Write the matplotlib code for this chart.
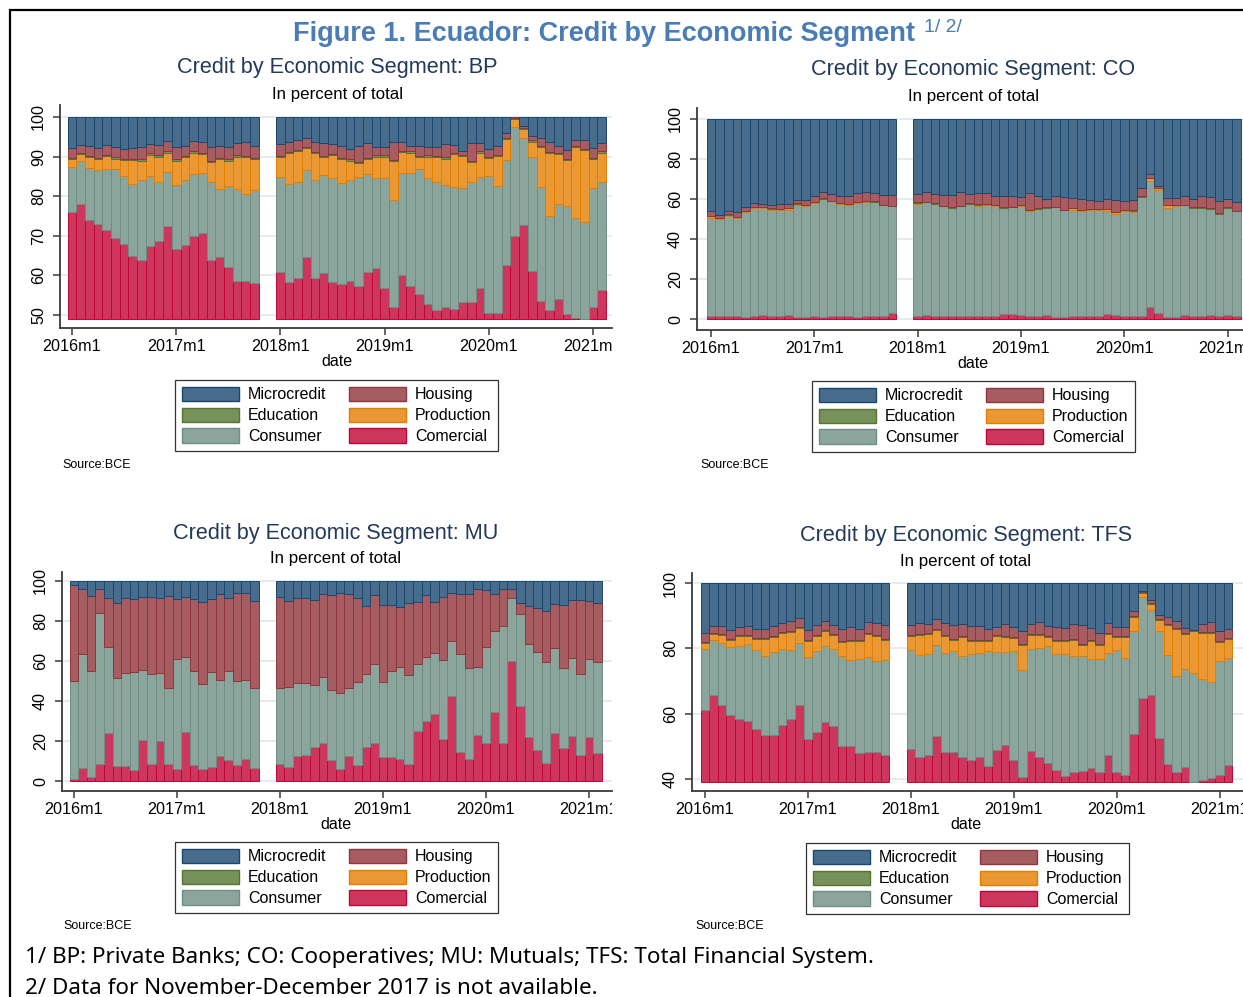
import numpy as np
import pandas as pd
import matplotlib
matplotlib.use("Agg")
import matplotlib.pyplot as plt
from matplotlib.patches import Patch, Rectangle
from matplotlib.transforms import Bbox, TransformedBbox

# months shown (Nov-Dec 2017 missing)
dates = list(pd.period_range("2016-01", "2017-10", freq="M")) + \
    list(pd.period_range("2018-01", "2021-02", freq="M"))
tick_pos = [0, 12, 24, 36, 48, 60]
tick_labels = ["2016m1", "2017m1", "2018m1", "2019m1", "2020m1", "2021m1"]

fills = {"Microcredit": "#486c8c", "Housing": "#a65d62", "Education": "#77915a",
         "Production": "#e99833", "Consumer": "#8ba59d", "Comercial": "#cd375d"}
edges = {"Microcredit": "#1a476f", "Housing": "#90353b", "Education": "#55752f",
         "Production": "#e37e00", "Consumer": "#6e8e84", "Comercial": "#c10534"}

# ---- BP: upper edge of each layer (percent, cumulative), edu = share
bp_com = [76, 78, 74, 73, 71.5, 69.5, 68, 65, 64, 67.5, 68.7, 72.5, 66.7, 67.8, 70, 70.7, 64, 64.7, 62, 58.6, 58.7, 58,
          60.8, 58.4, 59.3, 64.7, 59.3, 60.5, 58.4, 57.8, 58.6, 57.2, 60.8, 61.8, 56.7, 51.9, 60, 57.4, 55.3, 52.8, 51.3,
          51.9, 51.5, 53.2, 53.4, 56.7, 50.6, 50.4, 62.5, 70, 72.7, 61, 53.5, 51.3, 54, 50.3, 49.2, 47, 51.9, 56.3]
bp_con = [87.3, 89, 87.2, 86.7, 86.8, 86.8, 85, 83, 84, 85, 83.6, 86, 82.8, 84.2, 85.6, 85.8, 83.5, 81.8, 82.5, 81.8, 80.6, 81.5,
          84.8, 83, 83.6, 86.6, 84, 85.3, 84.7, 83.3, 84.1, 84.8, 85.7, 84.6, 84.7, 79.1, 85.8, 85.8, 86.8, 84.6, 83.7,
          82.9, 82.3, 82.1, 83.5, 84.8, 85.2, 82.5, 89.2, 97.6, 94.7, 90, 82.3, 74.9, 78.1, 77.4, 74.5, 73.6, 82, 83.5]
bp_pro = [89.3, 90.7, 89.8, 89.3, 90.2, 89.5, 89.2, 89.2, 89, 90.5, 90, 91, 89, 89.8, 91, 90.7, 88.7, 89.3, 89, 90, 89.8, 89.3,
          89.9, 90.9, 91.3, 92.1, 90.9, 89.9, 90.3, 89.4, 89, 88.4, 89.4, 90, 90, 88.8, 91.1, 91, 89.9, 90, 89.9,
          89.5, 90.7, 90.2, 88.6, 91, 89.6, 90.2, 94.4, 99.5, 97, 93.8, 92.3, 90.9, 90.6, 89.2, 92.4, 91.6, 89.4, 91]
bp_edu = [0.3, 0.3, 0.3, 0.3, 0.3, 0.3, 0.3, 0.3, 0.3, 0.3, 0.3, 0.3, 0.3, 0.3, 0.3, 0.3, 0.3, 0.3, 0.3, 0.3, 0.3, 0.3,
          0.3, 0.3, 0.3, 0.3, 0.3, 0.3, 0.3, 0.3, 0.3, 0.3, 0.3, 0.3, 0.3, 0.3, 0.3, 0.3, 0.3, 0.3, 0.3,
          0.3, 0.3, 0.3, 0.3, 0.3, 0.3, 0.3, 0.3, 0.2, 0.2, 0.3, 0.3, 0.3, 0.3, 0.3, 0.3, 0.3, 0.3, 0.3]
bp_hou = [92.2, 93, 92.6, 92.2, 93, 92.3, 92, 92.2, 92.3, 93.3, 93, 94, 92.3, 92.6, 94, 93.8, 92.5, 92.8, 92.3, 93.5, 93.6, 92.8,
          93.3, 93.8, 94.1, 94.7, 93.8, 93.4, 93.2, 92.6, 91.9, 92.7, 93.4, 92.4, 92.3, 93.8, 93.8, 92.7, 92.6, 92.4, 92.3,
          93.3, 93.0, 91.3, 93.4, 93.4, 91.9, 92.6, 96.0, 100.0, 97.8, 95.3, 94.7, 93.8, 92.6, 91.7, 94.3, 94.1, 92.2, 93.4]

# ---- CO: pro and edu are shares (thin layers)
co_com = [1.5, 1.3, 1.6, 1.4, 1.2, 1.5, 1.8, 1.4, 1.5, 1.8, 1.2, 1.2, 1.4, 1.2, 1.3, 1.5, 1.4, 1.2, 1.3, 1.6, 1.5, 3.2,
          1.5, 1.8, 1.4, 1.3, 1.5, 1.4, 1.5, 1.3, 1.4, 1.5, 2.6, 2.5, 1.8, 1.5, 1.6, 1.8, 1.2, 1.1, 1.5,
          1.6, 1.5, 1.4, 2.3, 1.8, 1.3, 1.6, 1.5, 5.8, 3.2, 0.9, 1.2, 1.8, 1.6, 1.3, 1.8, 1.5, 1.8, 1.7]
co_con = [50.6, 50, 51.6, 50.6, 53.6, 55.4, 55.4, 54.6, 54.6, 54.6, 57.1, 56.6, 57.9, 59.9, 58.8, 57.6, 56.8, 57.9, 58.3, 58.3, 56.8, 56.3,
          57.6, 58.3, 57.4, 56.3, 55.4, 56.3, 57.4, 56.6, 57.1, 56.6, 55.4, 55.8, 56.6, 54.1, 54.9, 55.4, 55.8, 54.3, 54.6,
          53.8, 54.6, 54.6, 54.1, 52.6, 53.8, 53.3, 60.8, 69.1, 64.6, 55.4, 56.6, 56.8, 55.4, 55.4, 54.9, 52.4, 55.4, 53.8]
co_pro = [1.0, 0.4, 0.6, 0.4, 0.3, 0.4, 0.4, 0.6, 0.5, 0.7, 0.6, 0.5, 0.4, 0.3, 0.3, 0.5, 0.6, 0.4, 0.6, 0.4, 0.3, 0.3,
          0.6, 0.3, 0.3, 0.3, 0.3, 0.3, 0.3, 0.6, 0.3, 0.3, 0.3, 0.3, 0.3, 0.3, 0.3, 0.3, 0.3, 0.3, 0.8,
          0.8, 0.3, 0.3, 0.9, 0.9, 0.5, 0.9, 0.4, 1.2, 0.8, 1.5, 0.4, 0.3, 0.3, 0.3, 0.3, 0.3, 0.3, 0.3]
co_edu = [0.1, 0.1, 0.1, 0.1, 0.1, 0.1, 0.1, 0.1, 0.1, 0.1, 0.1, 0.1, 0.1, 0.1, 0.1, 0.1, 0.1, 0.1, 0.1, 0.1, 0.1, 0.1,
          0.1, 0.1, 0.1, 0.1, 0.1, 0.1, 0.1, 0.1, 0.1, 0.1, 0.1, 0.1, 0.1, 0.1, 0.1, 0.1, 0.1, 0.1, 0.1,
          0.1, 0.1, 0.1, 0.1, 0.1, 0.1, 0.1, 0.1, 0.1, 0.1, 0.1, 0.1, 0.1, 0.1, 0.1, 0.1, 0.1, 0.1, 0.1]
co_hou = [53.8, 52.1, 53.8, 53.3, 55.8, 57.9, 57.6, 56.8, 57.4, 57.6, 59.3, 59.3, 61.3, 63.3, 62.4, 61.3, 61.6, 62.9, 63.3, 62.9, 61.8, 61.8,
          62.6, 63.4, 62.6, 62.1, 61.8, 63.3, 62.4, 62.9, 62.9, 61.3, 61.6, 61.3, 60.9, 62.9, 61.6, 60.1, 61.3, 60.8, 60.4,
          60.1, 59.6, 58.8, 59.9, 59.6, 59.1, 59.6, 65.4, 72.6, 66.6, 60.4, 60.4, 61.6, 59.9, 61.3, 60.8, 58.8, 59.9, 58.6]

# ---- MU: pro and edu are shares (too thin to show)
mu_com = [1, 6.7, 2, 8.3, 23.8, 7.7, 7.7, 5.5, 20.5, 8.7, 20, 8.3, 5.8, 24.3, 8, 6.2, 6.8, 12.5, 10.5, 8, 11, 6.7,
          8.5, 7.2, 12.5, 12.8, 17.2, 18.8, 10.5, 6.2, 12.5, 8, 16.8, 18.8, 11.8, 12.2, 10.8, 8.3, 25.2, 30, 33.3,
          21, 42.5, 14.5, 11.2, 23.2, 19.2, 34.7, 18.8, 60.2, 37.5, 22, 15.3, 9.2, 24.2, 16.7, 22.3, 13, 22, 13.8]
mu_con = [50, 63.3, 55, 84.2, 66.8, 51.7, 54.2, 54.3, 55.5, 53.3, 53.8, 46.7, 61, 62.2, 55, 48.3, 54.3, 50.5, 55, 50, 50.5, 46.7,
          46.3, 47.2, 49.2, 49.2, 48, 51.8, 45.3, 43.8, 46.7, 49.7, 53.3, 58.7, 49.3, 55, 57.2, 53, 58.3, 61.8, 64.2,
          60.5, 70, 63.3, 56.3, 57, 67.2, 75, 77.5, 91.3, 83.3, 68.7, 64.7, 59.7, 66.3, 56.7, 61.7, 53.5, 61, 59.3]
mu_pro = [0.0, 0.0, 0.0, 0.0, 0.0, 0.0, 0.0, 0.0, 0.0, 0.0, 0.0, 0.0, 0.0, 0.0, 0.0, 0.0, 0.0, 0.0, 0.0, 0.0, 0.0, 0.0,
          0.0, 0.0, 0.0, 0.0, 0.0, 0.0, 0.0, 0.0, 0.0, 0.0, 0.0, 0.0, 0.0, 0.0, 0.0, 0.0, 0.0, 0.0, 0.0,
          0.0, 0.0, 0.0, 0.0, 0.0, 0.0, 0.0, 0.0, 0.0, 0.0, 0.0, 0.0, 0.0, 0.0, 0.0, 0.0, 0.0, 0.0, 0.0]
mu_edu = [0.0, 0.0, 0.0, 0.0, 0.0, 0.0, 0.0, 0.0, 0.0, 0.0, 0.0, 0.0, 0.0, 0.0, 0.0, 0.0, 0.0, 0.0, 0.0, 0.0, 0.0, 0.0,
          0.0, 0.0, 0.0, 0.0, 0.0, 0.0, 0.0, 0.0, 0.0, 0.0, 0.0, 0.0, 0.0, 0.0, 0.0, 0.0, 0.0, 0.0, 0.0,
          0.0, 0.0, 0.0, 0.0, 0.0, 0.0, 0.0, 0.0, 0.0, 0.0, 0.0, 0.0, 0.0, 0.0, 0.0, 0.0, 0.0, 0.0, 0.0]
mu_hou = [98, 96, 92.7, 95.8, 91.3, 88.8, 91.3, 90.8, 91.8, 92.2, 91.3, 92.7, 90.8, 92.2, 90.8, 89.7, 91, 93.3, 91.3, 94.2, 93.8, 90,
          91.8, 90, 91.3, 91.3, 90.5, 93.5, 93, 94.2, 93.3, 91.3, 87.7, 93, 88, 88, 87.2, 89.2, 89.7, 93, 89.3,
          92.2, 93.8, 93.5, 93.5, 95.8, 95.5, 93.3, 96, 95.8, 88.8, 87.5, 86.7, 85.2, 88.5, 88, 90.5, 90.5, 90, 89.2]

# ---- TFS: upper edges, edu = share
tfs_com = [61, 65.8, 62.8, 59.5, 58.5, 57.7, 55.3, 53.6, 53.4, 56.6, 58.5, 62.6, 52.2, 54.4, 57.3, 56.3, 50, 50, 48, 48.2, 48.2, 47.2,
           49.2, 46.7, 47.4, 53.1, 48.3, 48.3, 46.7, 45.9, 46.7, 43.9, 48.8, 50.5, 45.7, 40.6, 48.7, 46.7, 44.9, 42.7, 41,
           42, 42.6, 43.4, 42, 47.2, 42, 41.1, 53.8, 64.8, 65.8, 52.6, 44.7, 42.1, 43.7, 38, 39.8, 40.3, 41.1, 44.4]
tfs_con = [79.9, 82.7, 81.6, 80.4, 80.7, 81.3, 79.4, 77.8, 78.8, 79.9, 79.4, 81.7, 77.2, 79.3, 80.6, 79.9, 77.6, 76.3, 76.8, 77.3, 76, 76.3,
           79.4, 78.1, 78.3, 81.1, 78.6, 79.1, 77.8, 78.4, 78.6, 79.3, 78.9, 78.9, 79.1, 73.5, 79.9, 80.1, 80.8, 78.3, 78.3,
           77.6, 77.6, 76.8, 76.8, 78.6, 79.6, 77, 85.4, 95.6, 91.8, 85.4, 78.1, 71.4, 73.8, 72.4, 70.7, 69.7, 76.2, 77]
tfs_pro = [81.6, 84.4, 84, 82.7, 83.7, 83.7, 82.9, 83, 83.4, 84.7, 84.9, 86.2, 82.3, 83.9, 85.2, 84, 81.8, 82.3, 82.1, 84.4, 83.9, 82.7,
           83.7, 84.2, 84.4, 85.5, 83.9, 82.7, 83.4, 82.3, 82.1, 82.3, 83.7, 83.4, 83.2, 81.1, 84, 84.2, 83.4, 82.3, 82.3,
           82.7, 81.1, 82.1, 81.1, 84.4, 83.4, 83.4, 89.5, 96.9, 93.6, 88.8, 87.2, 85.9, 84.4, 85.2, 84.7, 84.7, 81.9, 83]
tfs_edu = [0.3, 0.3, 0.3, 0.3, 0.3, 0.3, 0.3, 0.3, 0.3, 0.3, 0.3, 0.3, 0.3, 0.3, 0.3, 0.3, 0.3, 0.3, 0.3, 0.3, 0.3, 0.3,
           0.3, 0.3, 0.3, 0.3, 0.3, 0.3, 0.3, 0.3, 0.3, 0.3, 0.3, 0.3, 0.3, 0.3, 0.3, 0.3, 0.3, 0.3, 0.3,
           0.3, 0.3, 0.3, 0.3, 0.3, 0.3, 0.3, 0.3, 0.2, 0.2, 0.3, 0.3, 0.3, 0.3, 0.3, 0.3, 0.3, 0.3, 0.3]
tfs_hou = [84.7, 86.7, 86.7, 85.5, 86.4, 86.7, 85.9, 86, 86.7, 87.8, 88.3, 89.3, 85.7, 87, 88.5, 87.2, 86, 86.4, 85.9, 88.1, 87.9, 87.2,
           87.2, 87.8, 87.6, 89, 87.8, 87, 87.4, 86.9, 86.9, 86, 86.5, 87.4, 86.4, 85.4, 87.4, 88, 86.9, 86.4, 86.2,
           87.4, 87.2, 86.2, 84.7, 87.8, 86.5, 86.4, 91.3, 97.4, 94.7, 90.1, 89.6, 88.5, 86.2, 84.7, 87.6, 88, 85.4, 86]

W, H = 1243, 997
fig = plt.figure(figsize=(W / 100, H / 100), dpi=100)
FONT = ["Liberation Sans", "DejaVu Sans"]
AXC = "#3a3a3a"

x = np.array([(d.year - 2016) * 12 + d.month - 1 for d in dates])


def panel(tag, box, x0, ppm, ya, yb, base, yticks, layers, title_xy, legend_xy, source_xy, clip_r):
    l, t, r, b = box
    ax = fig.add_axes([l / W, 1 - b / H, (r - l) / W, (b - t) / H])
    (pa, va), (pb, vb) = ya, yb
    upv = (va - vb) / (pb - pa)          # units per pixel
    ax.set_ylim(vb - (b - pb) * upv, va + (pa - t) * upv)
    ax.set_xlim((l - x0) / ppm, (r - x0) / ppm)

    cur = np.full(len(x), float(base))
    for name, vals, kind in layers:
        vals = np.asarray(vals, float)
        top = np.maximum(vals, cur) if kind == "edge" else cur + vals
        h = top - cur
        keep = h > 0.01
        ax.bar(x[keep], h[keep], bottom=cur[keep], width=1.0, color=fills[name],
               edgecolor=edges[name], linewidth=0.7, zorder=2)
        cur = top

    ax.set_yticks(yticks)
    ax.set_xticks(tick_pos)
    ax.set_xticklabels(tick_labels)
    ax.grid(axis="y", color="#e3ebef", linewidth=1.3)
    ax.set_axisbelow(True)
    for s in ["top", "right"]:
        ax.spines[s].set_visible(False)
    for s in ["left", "bottom"]:
        ax.spines[s].set_color(AXC)
        ax.spines[s].set_linewidth(1.3)
    ax.tick_params(axis="both", colors=AXC, length=5, width=1.1, labelsize=11.6, labelcolor="black")
    ax.tick_params(axis="y", labelrotation=90, pad=5)
    ax.tick_params(axis="x", pad=3)
    clip = TransformedBbox(Bbox.from_extents(0, 0, clip_r / W, 1), fig.transFigure)
    for lab in ax.get_xticklabels() + ax.get_yticklabels():
        lab.set_family(FONT)
        lab.set_clip_box(clip)
        lab.set_clip_on(True)
    for lab in ax.get_yticklabels():
        lab.set_va("center")

    cx, ty = title_xy
    fig.text(cx / W, 1 - ty / H, "Credit by Economic Segment: " + tag, ha="center", va="center",
             fontsize=15.6, color="#22395a", family=FONT)
    fig.text(cx / W, 1 - (ty + 26) / H, "In percent of total", ha="center", va="center",
             fontsize=12.2, color="black", family=FONT)
    fig.text(cx / W, 1 - (b + 33) / H, "date", ha="center", va="center", fontsize=11.6, family=FONT)

    order = ["Microcredit", "Education", "Consumer", "Housing", "Production", "Comercial"]
    handles = [Patch(facecolor=fills[n], edgecolor=edges[n], linewidth=1) for n in order]
    leg = fig.legend(handles, order, ncol=2, loc="upper left",
                     bbox_to_anchor=(legend_xy[0] / W, 1 - legend_xy[1] / H),
                     frameon=True, fancybox=False, edgecolor="black", borderaxespad=0,
                     handlelength=3.6, handleheight=1.0, labelspacing=0.33, columnspacing=1.4,
                     handletextpad=0.55, borderpad=0.42, prop={"family": FONT, "size": 11.5})
    leg.get_frame().set_linewidth(0.9)
    fig.text(source_xy[0] / W, 1 - source_xy[1] / H, "Source:BCE", ha="left", va="center",
             fontsize=9, family=FONT)
    return ax


def stack(com, con, pro, edu, hou, pro_kind):
    return [("Comercial", com, "edge"), ("Consumer", con, "edge"), ("Production", pro, pro_kind),
            ("Education", edu, "share"), ("Housing", hou, "edge"),
            ("Microcredit", [100] * len(com), "edge")]


panel("BP", (60, 105, 612, 328), 72, 8.683, (117, 100), (315, 50), 49, [50, 60, 70, 80, 90, 100],
      stack(bp_com, bp_con, bp_pro, bp_edu, bp_hou, "edge"), (337, 68), (175, 380), (62, 465), 612)
panel("CO", (697, 108, 1243, 330), 711, 8.61, (119, 100), (319, 0), 0, [0, 20, 40, 60, 80, 100],
      stack(co_com, co_con, co_pro, co_edu, co_hou, "share"), (973, 70), (812, 381), (700, 465), 1243)
panel("MU", (62, 572, 612, 791), 74, 8.583, (581, 100), (781, 0), 0, [0, 20, 40, 60, 80, 100],
      stack(mu_com, mu_con, mu_pro, mu_edu, mu_hou, "share"), (336, 533), (175, 842), (63, 926), 612)
panel("TFS", (692, 573, 1243, 791), 705, 8.575, (583, 100), (779, 40), 39.2, [40, 60, 80, 100],
      stack(tfs_com, tfs_con, tfs_pro, tfs_edu, tfs_hou, "edge"), (966, 535), (806, 843), (695, 926), 1243)

renderer = fig.canvas.get_renderer()


def fit(txt, target):
    w = txt.get_window_extent(renderer).width
    txt.set_fontsize(txt.get_fontsize() * target / w)


TFONT = ["Liberation Sans", "DejaVu Sans"]
title = fig.text(293 / W, 1 - 34 / H, "Figure 1. Ecuador: Credit by Economic Segment", ha="left", va="center",
                 fontsize=16, fontweight="bold", color="#4a7db5", family=TFONT)
fit(title, 622)
fig.text(924 / W, 1 - 27 / H, "1/ 2/", ha="left", va="center", fontsize=14, color="#4a7db5", family=TFONT)

fn1 = fig.text(25 / W, 1 - 957 / H, "1/ BP: Private Banks; CO: Cooperatives; MU: Mutuals; TFS: Total Financial System.",
               ha="left", va="center", fontsize=14, family=["Noto Sans", "DejaVu Sans"])
fit(fn1, 847)
fn2 = fig.text(25 / W, 1 - 988 / H, "2/ Data for November-December 2017 is not available.",
               ha="left", va="center", fontsize=fn1.get_fontsize(), family=["Noto Sans", "DejaVu Sans"])

fig.add_artist(Rectangle((10 / W, -0.1), 1.2, 1.1 - 10 / H, transform=fig.transFigure,
                         fill=False, edgecolor="black", linewidth=1.6))

fig.savefig("out.png", dpi=100)
